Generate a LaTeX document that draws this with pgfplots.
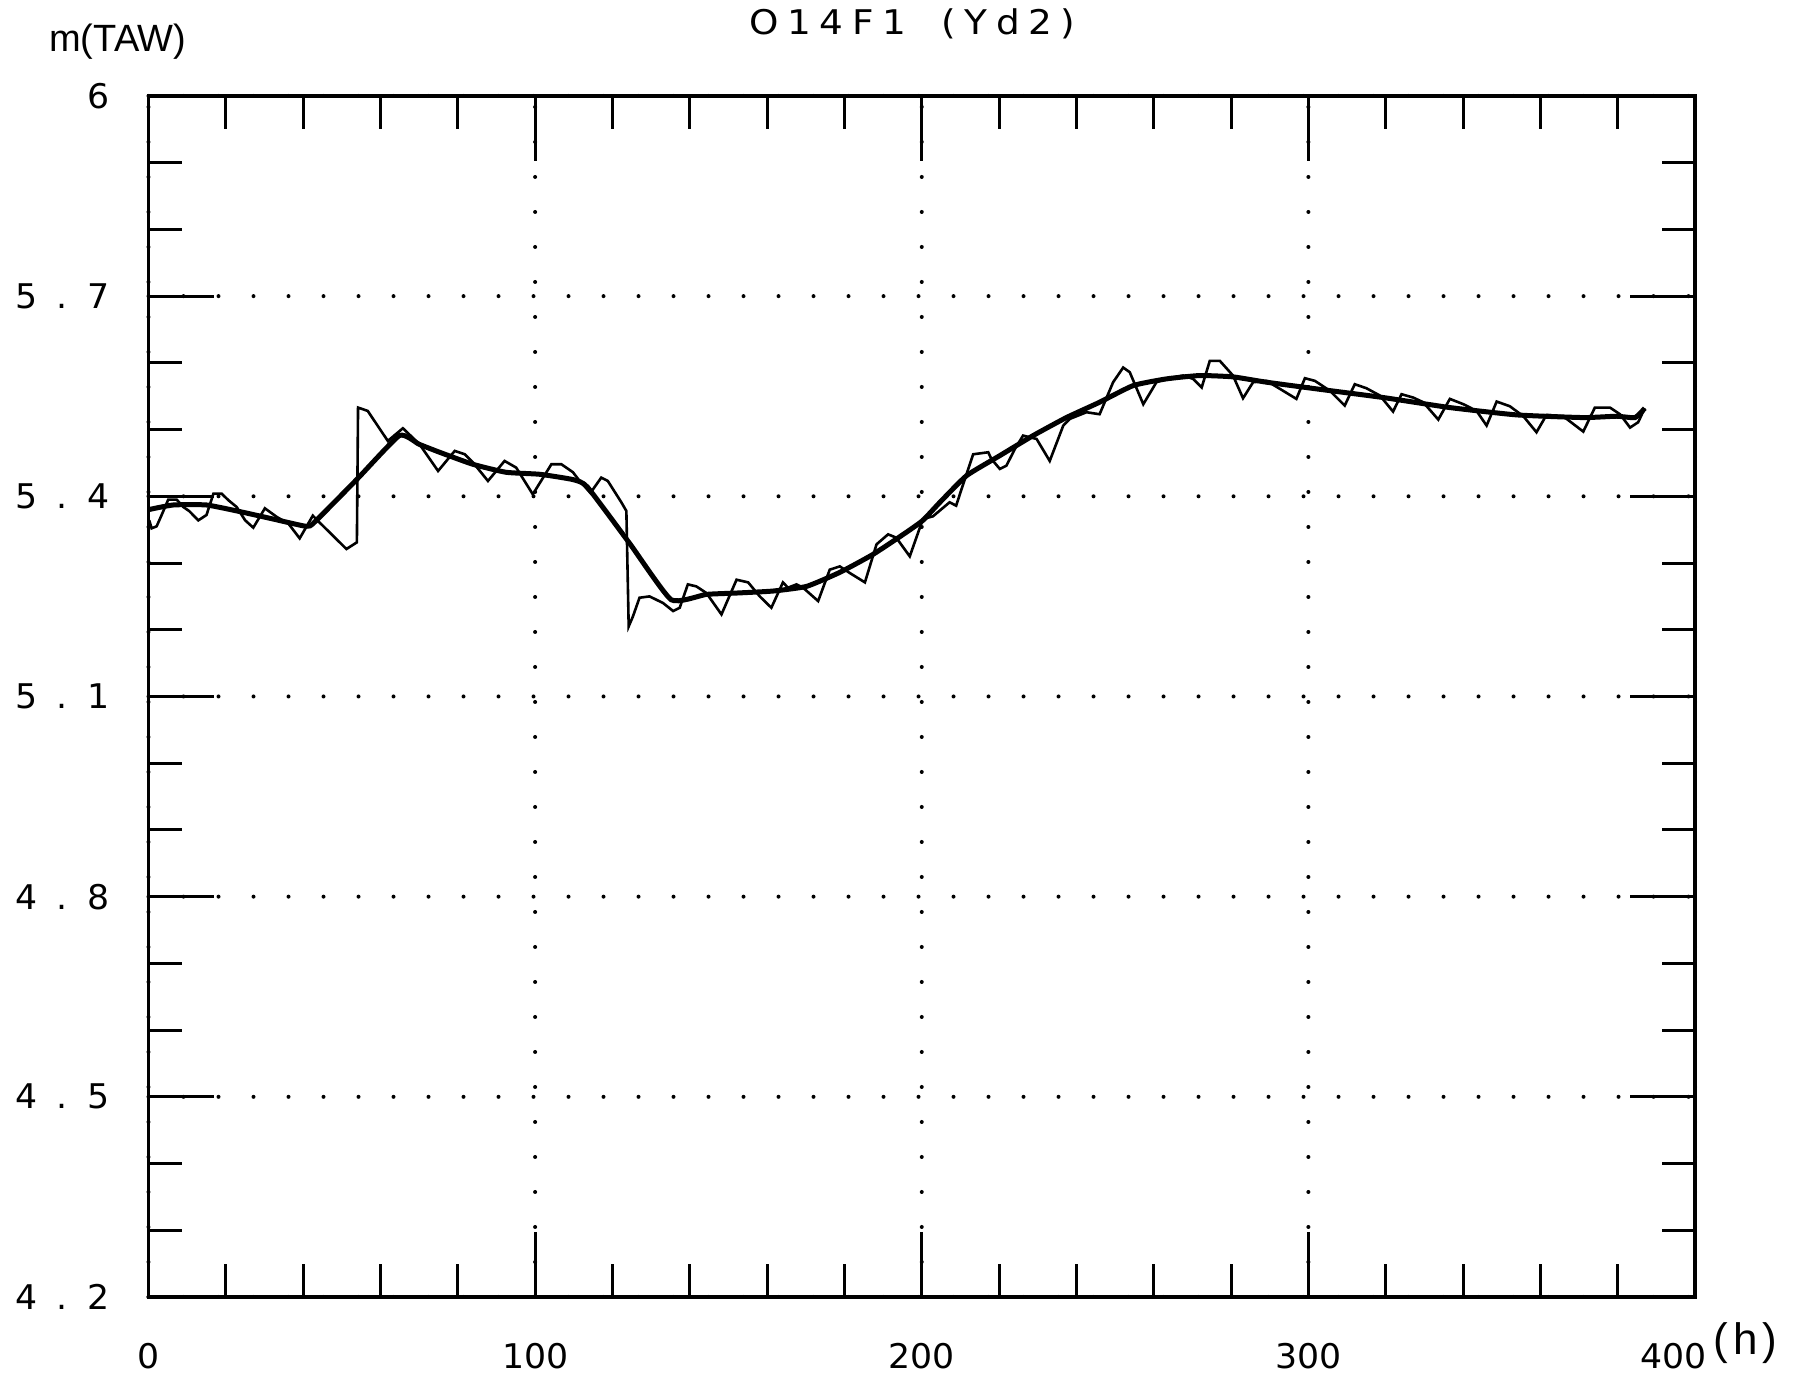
\documentclass[border=0pt]{standalone}
\usepackage{pgfplots}
\pgfplotsset{compat=1.18}
\usepackage{fontspec}
\setmainfont{DejaVu Sans}
\newfontfamily\plotfont[FakeStretch=1.02]{DejaVu Sans}
\newfontfamily\titlefont[FakeStretch=1.1,LetterSpace=25]{DejaVu Sans}
\newfontfamily\labfont{Liberation Sans}
\newcommand\dg[2]{#1\kern4.9pt.\kern4.9pt#2}
\begin{document}
\begin{tikzpicture}
\begin{axis}[
  scale only axis, width=386.625pt, height=300.25pt,
  xmin=0, xmax=400, ymin=4.2, ymax=6,
  clip=false,
  axis line style={line width=0.8pt},
  xtick={0,100,200,300,400}, xticklabels={0,100,200,300,{}},
  minor x tick num=4,
  ytick={4.2,4.5,4.8,5.1,5.4,5.7,6},
  yticklabels={\dg42,\dg45,\dg48,\dg51,\dg54,\dg57,6},
  minor y tick num=2,
  tick align=inside,
  major tick length=16.25pt, minor tick length=8.3pt,
  tick style={line width=0.75pt, black},
  xmajorgrids, ymajorgrids,
  major grid style={line width=1pt, dash pattern=on 0pt off 8.75pt, line cap=round, black},
  ticklabel style={font=\fontsize{8.5}{10}\plotfont, inner sep=0pt},
  xticklabel style={anchor=north, yshift=-11.25pt},
  yticklabel style={anchor=east, xshift=-9.5pt},
]
% raw (thin) series
\addplot[black, line width=0.65pt] coordinates {
(0.2,5.364) (0.8,5.352) (2.1,5.355) (3.4,5.372) (5.1,5.395) (7.3,5.395)
(9.0,5.384) (10.5,5.378) (12.9,5.364) (15.0,5.372) (16.8,5.404) (18.9,5.404)
(20.7,5.394) (22.8,5.384) (25.0,5.364) (27.1,5.353) (30.1,5.382) (33.2,5.369)
(36.2,5.359) (39.1,5.337) (42.5,5.371) (44.2,5.361) (51.2,5.321) (53.9,5.331)
(54.2,5.533) (56.7,5.528) (61.9,5.483) (65.8,5.502) (70.1,5.478) (74.9,5.438)
(79.2,5.468) (81.8,5.463) (83.9,5.451) (87.8,5.423) (92.1,5.453) (95.1,5.443)
(99.4,5.403) (104.2,5.448) (106.8,5.448) (109.8,5.436) (111.1,5.426) (114.3,5.405)
(117.1,5.428) (118.8,5.423) (122.3,5.391) (123.6,5.378) (124.2,5.205) (125.3,5.220)
(127.0,5.248) (129.6,5.250) (133.1,5.240) (135.7,5.228) (137.4,5.233) (139.5,5.268)
(141.7,5.265) (144.3,5.255) (148.2,5.223) (152.1,5.275) (155.1,5.271) (158.1,5.250)
(161.1,5.233) (164.1,5.271) (165.4,5.263) (167.6,5.268) (169.3,5.263) (173.2,5.243)
(176.2,5.290) (178.8,5.295) (181.4,5.285) (185.3,5.271) (188.3,5.328) (191.3,5.343)
(193.4,5.338) (196.9,5.310) (200.3,5.366) (202.9,5.370) (207.2,5.391) (208.9,5.386)
(210.3,5.411) (213.3,5.463) (217.2,5.466) (218.0,5.456) (220.2,5.441) (221.9,5.446)
(224.1,5.471) (226.2,5.491) (229.7,5.486) (233.1,5.453) (236.6,5.506) (238.3,5.516)
(242.6,5.526) (246.0,5.523) (249.5,5.571) (252.1,5.593) (253.8,5.586) (257.3,5.538)
(260.7,5.571) (263.3,5.576) (267.6,5.581) (270.2,5.576) (272.4,5.563) (274.5,5.603)
(277.1,5.603) (280.5,5.581) (283.1,5.547) (285.7,5.571) (289.2,5.573) (293.5,5.558)
(296.9,5.546) (299.1,5.577) (301.7,5.573) (305.6,5.558) (309.4,5.536) (312.0,5.568)
(315.0,5.562) (318.5,5.551) (321.9,5.527) (324.1,5.553) (327.1,5.548) (329.7,5.541)
(333.6,5.515) (336.6,5.546) (340.1,5.538) (343.5,5.528) (346.1,5.506) (348.7,5.542)
(352.1,5.535) (355.6,5.520) (359.0,5.496) (361.6,5.522) (365.9,5.520) (371.1,5.497)
(374.1,5.533) (378.0,5.533) (380.6,5.523) (383.2,5.503) (385.3,5.511) (387.0,5.532)
};
% smoothed (thick) series
\addplot[black, line width=1.25pt, smooth, tension=0.3] coordinates {
(0,5.380) (6.4,5.387) (15.0,5.387) (23.7,5.377) (32.2,5.366) (40.8,5.355)
(42.9,5.361) (54,5.426) (64.9,5.491) (70,5.478) (75.3,5.466) (83.9,5.448)
(92.5,5.436) (101.2,5.433) (109.8,5.425) (113.5,5.414) (124.5,5.329) (135.2,5.245)
(144.3,5.253) (152,5.255) (161.5,5.258) (170.2,5.265) (178.8,5.286) (187.4,5.313)
(196.0,5.346) (200.3,5.364) (204.7,5.391) (211.6,5.431) (220.2,5.461) (228.8,5.491)
(237.4,5.518) (246.0,5.541) (254.7,5.566) (263.3,5.576) (271.9,5.581) (280.5,5.579)
(289.2,5.571) (302.1,5.561) (319.4,5.548) (336.6,5.533) (353.9,5.522) (371.1,5.518)
(379.7,5.520) (384.5,5.518) (387.0,5.532)
};
\coordinate (SW) at (rel axis cs:0,0);
\coordinate (NE) at (rel axis cs:1,1);
\node[anchor=base, inner sep=0pt, font=\fontsize{8.5}{10}\titlefont]
  at (rel axis cs:0.494,1) [yshift=15.25pt] {O14F1\hspace{9pt}(Yd2)};
\node[anchor=base west, inner sep=0pt, font=\fontsize{9.5}{11}\labfont]
  at (rel axis cs:0,1) [xshift=-25pt, yshift=11pt] {m(TAW)};
\node[anchor=north east, inner sep=0pt, font=\fontsize{8.5}{10}\plotfont]
  at (rel axis cs:1,0) [xshift=3pt, yshift=-11.25pt] {400};
\node[anchor=base west, inner sep=0pt, font=\fontsize{11}{12}\labfont]
  at (rel axis cs:1,0) [xshift=4.5pt, yshift=-14.5pt] {(\kern1.2pt h\kern1.2pt)};
\end{axis}
\pgfresetboundingbox
\path[use as bounding box] ([shift={(-37.125pt,-19.5pt)}]SW) rectangle ([shift={(25.25pt,24pt)}]NE);
\end{tikzpicture}
\end{document}
